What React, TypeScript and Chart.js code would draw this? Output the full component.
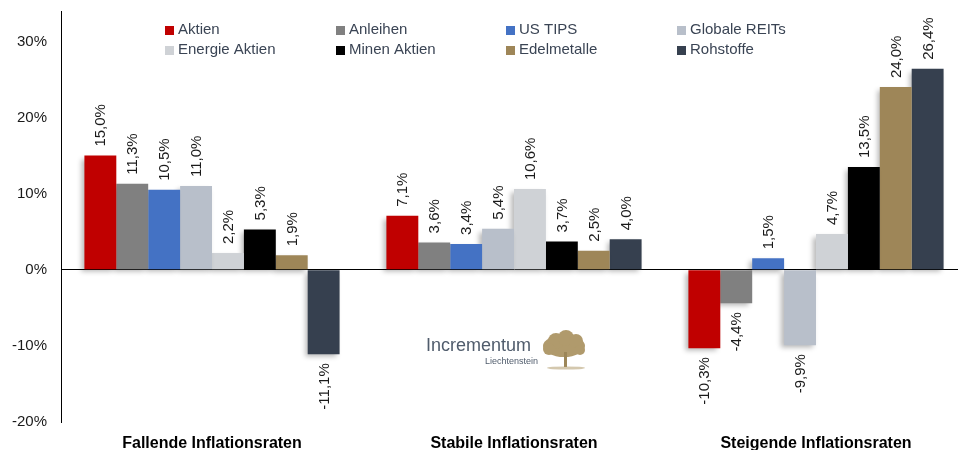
import React, { useEffect, useRef } from "react";
import { Chart, registerables } from "chart.js";

Chart.register(...registerables);

const categories = ["Fallende Inflationsraten", "Stabile Inflationsraten", "Steigende Inflationsraten"];
const seriesNames = ["Aktien", "Anleihen", "US TIPS", "Globale REITs", "Energie Aktien", "Minen Aktien", "Edelmetalle", "Rohstoffe"];
const seriesColors = ["#C00000", "#808080", "#4472C4", "#B8BFCA", "#CFD2D6", "#000000", "#9E8658", "#36404F"];
const aktien = [15.0, 7.1, -10.3];
const anleihen = [11.3, 3.6, -4.4];
const usTips = [10.5, 3.4, 1.5];
const globaleReits = [11.0, 5.4, -9.9];
const energieAktien = [2.2, 10.6, 4.7];
const minenAktien = [5.3, 3.7, 13.5];
const edelmetalle = [1.9, 2.5, 24.0];
const rohstoffe = [-11.1, 4.0, 26.4];
const seriesValues = [aktien, anleihen, usTips, globaleReits, energieAktien, minenAktien, edelmetalle, rohstoffe];
const yTicks = [-20, -10, 0, 10, 20, 30];

const FONT = "Arial, 'Liberation Sans', sans-serif";

const fmt = (v: number) => v.toFixed(1).replace(".", ",") + "%";

const shadowPlugin = {
  id: "barShadow",
  beforeDatasetsDraw(chart: any) {
    const ctx = chart.ctx;
    ctx.save();
    ctx.shadowColor = "rgba(0,0,0,0.28)";
    ctx.shadowBlur = 5;
    ctx.shadowOffsetX = -3;
    ctx.shadowOffsetY = 3;
  },
  afterDatasetsDraw(chart: any) {
    chart.ctx.restore();
  },
};

const labelPlugin = {
  id: "valueLabels",
  afterDatasetsDraw(chart: any) {
    const ctx = chart.ctx;
    ctx.save();
    ctx.font = "15px " + FONT;
    ctx.fillStyle = "#1a1a1a";
    ctx.textBaseline = "middle";
    chart.data.datasets.forEach((ds: any, di: number) => {
      const meta = chart.getDatasetMeta(di);
      meta.data.forEach((el: any, i: number) => {
        const v = ds.data[i] as number;
        const gap = 9;
        ctx.save();
        if (v >= 0) {
          ctx.translate(el.x + 1, el.y - gap);
          ctx.rotate(-Math.PI / 2);
          ctx.textAlign = "left";
        } else {
          ctx.translate(el.x + 1, el.y + gap);
          ctx.rotate(-Math.PI / 2);
          ctx.textAlign = "right";
        }
        ctx.fillText(fmt(v), 0, 0);
        ctx.restore();
      });
    });
    ctx.restore();
  },
};

const legendPlugin = {
  id: "gridLegend",
  afterDraw(chart: any) {
    const ctx = chart.ctx;
    const colX = [165, 336, 506, 677];
    const rowY = [30, 50];
    ctx.save();
    ctx.font = "15px " + FONT;
    ctx.textBaseline = "middle";
    ctx.textAlign = "left";
    seriesNames.forEach((name, i) => {
      const x = colX[i % 4];
      const y = rowY[Math.floor(i / 4)];
      ctx.fillStyle = seriesColors[i];
      ctx.fillRect(x, y - 4, 9, 9);
      ctx.fillStyle = "#3A4454";
      ctx.fillText(name, x + 13, y);
    });
    ctx.restore();
  },
};

const logoPlugin = {
  id: "logo",
  afterDraw(chart: any) {
    const ctx = chart.ctx;
    ctx.save();
    ctx.fillStyle = "#505C6C";
    ctx.font = "18px " + FONT;
    ctx.textBaseline = "alphabetic";
    ctx.textAlign = "left";
    ctx.fillText("Incrementum", 426, 351);
    ctx.font = "9px " + FONT;
    ctx.textAlign = "right";
    ctx.fillText("Liechtenstein", 538, 364);
    // tree
    ctx.fillStyle = "#B09A6C";
    ctx.beginPath();
    ctx.ellipse(564, 346, 21, 11, 0, 0, Math.PI * 2);
    ctx.fill();
    const blobs = [
      [556, 341, 8], [566, 338, 8], [576, 341, 7], [549, 349, 6], [580, 350, 5],
    ];
    blobs.forEach(([x, y, r]) => {
      ctx.beginPath();
      ctx.arc(x, y, r, 0, Math.PI * 2);
      ctx.fill();
    });
    ctx.fillStyle = "#9C8658";
    ctx.fillRect(564, 352, 3, 15);
    ctx.fillStyle = "rgba(176,154,108,0.55)";
    ctx.beginPath();
    ctx.ellipse(566, 368, 19, 1.6, 0, 0, Math.PI * 2);
    ctx.fill();
    ctx.restore();
  },
};

export default function App() {
  const ref = useRef<HTMLCanvasElement | null>(null);
  useEffect(() => {
    if (!ref.current) return;
    const chart = new Chart(ref.current, {
      type: "bar",
      data: {
        labels: categories,
        datasets: seriesNames.map((name, i) => ({
          label: name,
          data: seriesValues[i],
          backgroundColor: seriesColors[i],
          borderWidth: 0,
          categoryPercentage: 0.845,
          barPercentage: 1,
        })),
      },
      options: {
        responsive: false,
        animation: false,
        devicePixelRatio: 1,
        layout: { padding: { top: 11, right: 3, left: 0, bottom: 0 } },
        plugins: {
          legend: { display: false },
          tooltip: { enabled: false },
        },
        scales: {
          x: {
            grid: { display: false, drawTicks: false },
            border: { display: false },
            ticks: {
              font: { family: FONT, size: 16, weight: "bold" },
              color: "#000",
              padding: 12,
              maxRotation: 0,
            },
            afterFit(scale: any) {
              scale.height = 28;
              scale.paddingLeft = 0;
              scale.paddingRight = 0;
            },
          },
          y: {
            min: -20,
            max: 34,
            grid: {
              drawTicks: false,
              color: (c: any) => (c.tick && c.tick.value === 0 ? "#000" : "rgba(0,0,0,0)"),
              lineWidth: 1,
            },
            border: { display: true, color: "#000", width: 1 },
            ticks: {
              font: { family: FONT, size: 15 },
              color: "#1a1a1a",
              padding: 14,
              callback: (v: any) => v + "%",
            },
            afterBuildTicks(scale: any) {
              scale.ticks = yTicks.map((v) => ({ value: v }));
            },
            afterFit(scale: any) {
              scale.width = 61;
              scale.paddingTop = 0;
              scale.paddingBottom = 0;
            },
          },
        },
      },
      plugins: [shadowPlugin, labelPlugin, legendPlugin, logoPlugin],
    } as any);
    return () => chart.destroy();
  }, []);
  return (
    <div style={{ position: "absolute", left: 0, top: 0, width: 958, height: 450, overflow: "hidden", background: "#fff" }}>
      <canvas ref={ref} width={970} height={450} style={{ display: "block", width: 970, height: 450 }} />
    </div>
  );
}
